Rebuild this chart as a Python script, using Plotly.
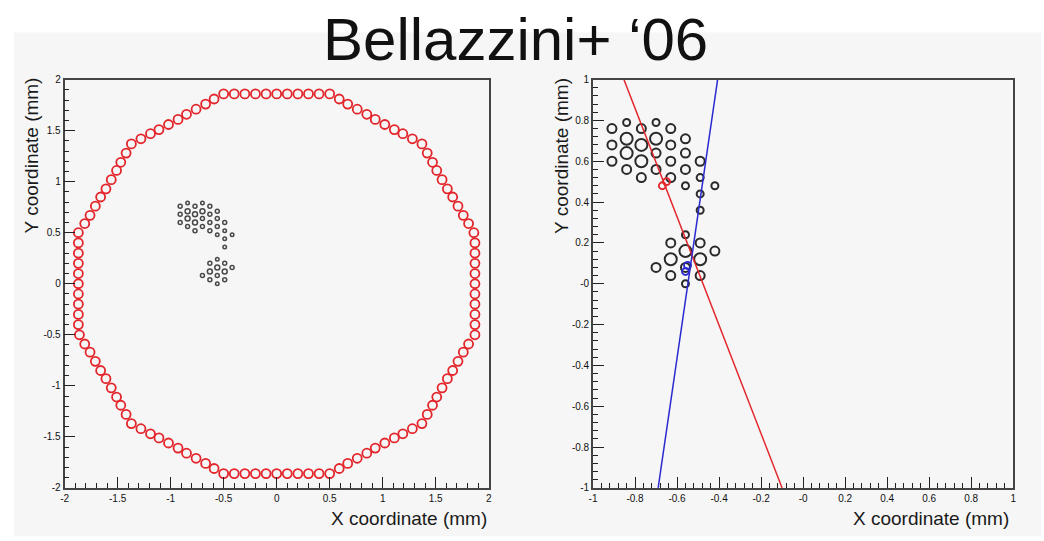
import plotly.graph_objects as go

# ---------------- data ----------------
# Left panel: red open circles along the dodecagonal border (mm)
ring_x = [
    1.86, 1.81, 1.76, 1.71, 1.66, 1.61, 1.56, 1.51, 1.47, 1.42,
    1.37, 1.28, 1.19, 1.11, 1.02, 0.93, 0.85, 0.76, 0.67, 0.59,
    0.50, 0.40, 0.30, 0.20, 0.10, 0.00, -0.10, -0.20, -0.30, -0.40,
    -0.50, -0.59, -0.67, -0.76, -0.85, -0.93, -1.02, -1.11, -1.19, -1.28,
    -1.37, -1.42, -1.47, -1.51, -1.56, -1.61, -1.66, -1.71, -1.76, -1.81,
    -1.87, -1.87, -1.87, -1.87, -1.87, -1.87, -1.87, -1.87, -1.87, -1.87,
    -1.86, -1.81, -1.76, -1.71, -1.66, -1.61, -1.56, -1.51, -1.47, -1.42,
    -1.37, -1.28, -1.19, -1.11, -1.02, -0.93, -0.85, -0.76, -0.67, -0.59,
    -0.50, -0.40, -0.30, -0.20, -0.10, 0.00, 0.10, 0.20, 0.30, 0.40,
    0.50, 0.59, 0.67, 0.76, 0.85, 0.93, 1.02, 1.11, 1.19, 1.28,
    1.37, 1.42, 1.47, 1.51, 1.56, 1.61, 1.66, 1.71, 1.76, 1.81,
    1.87, 1.87, 1.87, 1.87, 1.87, 1.87, 1.87, 1.87, 1.87, 1.87,
]
ring_y = [
    0.50, 0.59, 0.67, 0.76, 0.85, 0.93, 1.02, 1.11, 1.19, 1.28,
    1.37, 1.42, 1.47, 1.51, 1.56, 1.61, 1.66, 1.71, 1.76, 1.81,
    1.86, 1.86, 1.86, 1.86, 1.86, 1.86, 1.86, 1.86, 1.86, 1.86,
    1.86, 1.81, 1.76, 1.71, 1.66, 1.61, 1.56, 1.51, 1.47, 1.42,
    1.37, 1.28, 1.19, 1.11, 1.02, 0.93, 0.85, 0.76, 0.67, 0.59,
    0.50, 0.40, 0.30, 0.20, 0.10, 0.00, -0.10, -0.20, -0.30, -0.40,
    -0.50, -0.59, -0.67, -0.76, -0.85, -0.93, -1.02, -1.11, -1.19, -1.28,
    -1.37, -1.42, -1.47, -1.51, -1.56, -1.61, -1.66, -1.71, -1.76, -1.81,
    -1.86, -1.86, -1.86, -1.86, -1.86, -1.86, -1.86, -1.86, -1.86, -1.86,
    -1.86, -1.81, -1.76, -1.71, -1.66, -1.61, -1.56, -1.51, -1.47, -1.42,
    -1.37, -1.28, -1.19, -1.11, -1.02, -0.93, -0.85, -0.76, -0.67, -0.59,
    -0.50, -0.40, -0.30, -0.20, -0.10, 0.00, 0.10, 0.20, 0.30, 0.40,
]

# Hit pixels (mm) and charge class (1 small, 2 medium, 3 large)
hit_x = [
    -0.84, -0.70, -0.91, -0.77, -0.63, -0.84, -0.70, -0.56, -0.91, -0.77,
    -0.63, -0.84, -0.70, -0.56, -0.91, -0.77, -0.63, -0.49, -0.84, -0.70,
    -0.56, -0.77, -0.63, -0.49, -0.56, -0.42, -0.49, -0.49,
    -0.56, -0.63, -0.49, -0.56, -0.42, -0.63, -0.49, -0.70, -0.56, -0.63,
    -0.49, -0.56,
]
hit_y = [
    0.79, 0.79, 0.76, 0.76, 0.76, 0.71, 0.71, 0.71, 0.68, 0.68,
    0.68, 0.64, 0.64, 0.64, 0.60, 0.60, 0.60, 0.60, 0.56, 0.56,
    0.56, 0.52, 0.52, 0.52, 0.48, 0.48, 0.44, 0.36,
    0.24, 0.20, 0.20, 0.16, 0.16, 0.12, 0.12, 0.08, 0.08, 0.04,
    0.04, 0.00,
]
hit_charge = [
    1, 1, 2, 2, 2, 3, 3, 2, 2, 3,
    2, 3, 2, 2, 2, 3, 2, 2, 2, 2,
    2, 2, 2, 1, 1, 1, 1, 1,
    1, 2, 2, 3, 2, 3, 3, 2, 2, 2,
    2, 1,
]

# Reconstructed points
red_pt_x = [-0.67, -0.65]
red_pt_y = [0.48, 0.50]
blue_pt_x = [-0.55, -0.56]
blue_pt_y = [0.09, 0.06]

# Track directions (end points, mm)
red_line_x = [-0.853, -0.10]
red_line_y = [1.0, -1.0]
blue_line_x = [-0.407, -0.69]
blue_line_y = [1.0, -1.0]

# Tick labels
left_ticks = [-2, -1.5, -1, -0.5, 0, 0.5, 1, 1.5, 2]
left_ticktext = ["-2", "-1.5", "-1", "-0.5", "0", "0.5", "1", "1.5", "2"]
right_ticks = [-1, -0.8, -0.6, -0.4, -0.2, 0, 0.2, 0.4, 0.6, 0.8, 1]
right_ticktext = ["-1", "-0.8", "-0.6", "-0.4", "-0.2", "-0", "0.2", "0.4", "0.6", "0.8", "1"]

# ---------------- styles ----------------
W, H = 1044, 541
big_size = {1: 7, 2: 9, 3: 12}
small_size = {1: 3.5, 2: 4, 3: 5}
RED = "#e3262b"
BLUE = "#2a2ad0"
DARK = "#2a2a2a"

fig = go.Figure()

fig.add_trace(go.Scatter(
    x=ring_x, y=ring_y, mode="markers", xaxis="x", yaxis="y",
    marker=dict(symbol="circle-open", size=9, color=RED, opacity=1,
                line=dict(width=1.8, color=RED)),
    hoverinfo="skip", showlegend=False))
fig.add_trace(go.Scatter(
    x=hit_x, y=hit_y, mode="markers", xaxis="x", yaxis="y",
    marker=dict(symbol="circle-open", size=[small_size[c] for c in hit_charge],
                color=DARK, opacity=0.85, line=dict(width=1.5, color=DARK)),
    hoverinfo="skip", showlegend=False))

fig.add_trace(go.Scatter(
    x=hit_x, y=hit_y, mode="markers", xaxis="x2", yaxis="y2",
    marker=dict(symbol="circle-open", size=[big_size[c] for c in hit_charge],
                color=DARK, opacity=1, line=dict(width=2.0, color=DARK)),
    hoverinfo="skip", showlegend=False))
fig.add_trace(go.Scatter(
    x=red_line_x, y=red_line_y, mode="lines", xaxis="x2", yaxis="y2",
    line=dict(color=RED, width=1.5), hoverinfo="skip", showlegend=False))
fig.add_trace(go.Scatter(
    x=blue_line_x, y=blue_line_y, mode="lines", xaxis="x2", yaxis="y2",
    line=dict(color=BLUE, width=1.5), hoverinfo="skip", showlegend=False))
fig.add_trace(go.Scatter(
    x=red_pt_x, y=red_pt_y, mode="markers", xaxis="x2", yaxis="y2",
    marker=dict(symbol="circle-open", size=7, color=RED, opacity=1,
                line=dict(width=1.8, color=RED)),
    hoverinfo="skip", showlegend=False))
fig.add_trace(go.Scatter(
    x=blue_pt_x, y=blue_pt_y, mode="markers", xaxis="x2", yaxis="y2",
    marker=dict(symbol="circle-open", size=7, color=BLUE, opacity=1,
                line=dict(width=1.8, color=BLUE)),
    hoverinfo="skip", showlegend=False))

tickfont = dict(family="Liberation Sans", size=10, color="#111")


def ax(domain, rng, ticks, text, minor_dt, anchor):
    return dict(
        domain=domain, range=rng, anchor=anchor,
        tickmode="array", tickvals=ticks, ticktext=text,
        ticks="inside", ticklen=11, tickwidth=1.3, tickcolor="#222",
        minor=dict(ticks="inside", ticklen=5, tickwidth=1.1, tickcolor="#222",
                   tick0=rng[0], dtick=minor_dt, showgrid=False),
        showline=True, linecolor="#444", linewidth=1.8, mirror=True,
        showgrid=False, zeroline=False, tickfont=tickfont, fixedrange=True,
    )


yd = [1 - 492 / H, 1 - 76 / H]
fig.update_layout(
    width=W, height=H,
    margin=dict(l=0, r=0, t=0, b=0),
    paper_bgcolor="white",
    plot_bgcolor="#f9f9f9",
    xaxis=ax([61 / W, 488 / W], [-2, 2], left_ticks, left_ticktext, 0.1, "y"),
    yaxis=ax(yd, [-2, 2], left_ticks, left_ticktext, 0.1, "x"),
    xaxis2=ax([593 / W, 1016 / W], [-1, 1], right_ticks, right_ticktext, 0.04, "y2"),
    yaxis2=ax(yd, [-1, 1], right_ticks, right_ticktext, 0.04, "x2"),
    shapes=[dict(type="rect", xref="paper", yref="paper", layer="below",
                 x0=10 / W, x1=1, y0=0, y1=1 - 28 / H,
                 fillcolor="#f6f6f6", line=dict(width=0))],
)

title_font = dict(family="Liberation Sans", size=19, color="#1a1a1a")
ann = [
    dict(text="Bellazzini+ \u201806", x=515 / W, y=1 - 35 / H, xref="paper", yref="paper",
         xanchor="center", yanchor="middle", showarrow=False,
         font=dict(family="Liberation Sans", size=60, color="#111")),
    dict(text="X coordinate (mm)", x=488 / W, y=1 - 523 / H, xref="paper", yref="paper",
         xanchor="right", yanchor="middle", showarrow=False, font=title_font),
    dict(text="X coordinate (mm)", x=1014 / W, y=1 - 523 / H, xref="paper", yref="paper",
         xanchor="right", yanchor="middle", showarrow=False, font=title_font),
    dict(text="Y coordinate (mm)", x=28 / W, y=1 - 72 / H, xref="paper", yref="paper",
         xanchor="center", yanchor="top", textangle=-90, showarrow=False, font=title_font),
    dict(text="Y coordinate (mm)", x=561 / W, y=1 - 72 / H, xref="paper", yref="paper",
         xanchor="center", yanchor="top", textangle=-90, showarrow=False, font=title_font),
]
fig.update_layout(annotations=ann)

fig.write_html("out.html")
